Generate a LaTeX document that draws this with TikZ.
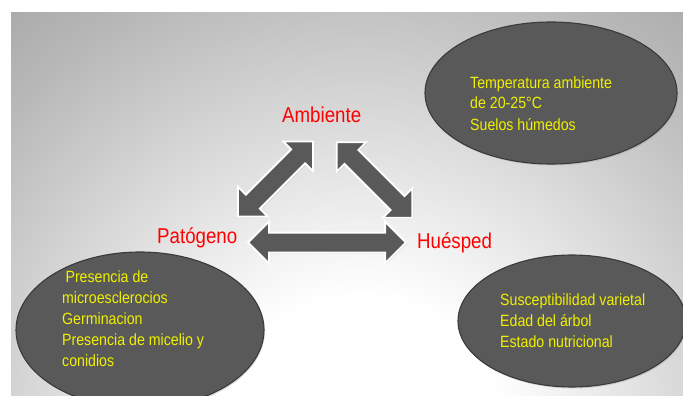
\documentclass[tikz,border=0pt]{standalone}
\usepackage{fontspec}
\setmainfont{Liberation Sans}
\usetikzlibrary{shapes.arrows,shapes.geometric,shadows}
\definecolor{darkfill}{HTML}{595959}
\definecolor{ebord}{HTML}{3A3A3A}
\definecolor{ytxt}{HTML}{F0F000}
\definecolor{bgdark}{HTML}{868686}
\definecolor{bgmid}{HTML}{B8B8B8}
\pgfdeclareradialshading{bgshade}{\pgfpoint{0bp}{0bp}}{color(0bp)=(white); color(6bp)=(white); color(20bp)=(bgmid); color(32bp)=(bgdark); color(50bp)=(bgdark)}
\begin{document}
\begin{tikzpicture}[x=1pt,y=-1pt,
  blob/.style={ellipse, fill=darkfill, draw=ebord, line width=1.1pt, inner sep=0pt,
    drop shadow={opacity=0.25, shadow xshift=1pt, shadow yshift=-1.5pt}},
  dblarrow/.style={shape=double arrow, double arrow head extend=11pt, double arrow tip angle=90,
    inner xsep=0pt, inner ysep=9pt, minimum width=0pt, fill=darkfill, draw=white, line width=1.8pt,
    drop shadow={opacity=0.3, shadow xshift=1pt, shadow yshift=-1pt}},
  redlbl/.style={text=red, font=\fontsize{21.5}{24}\selectfont, inner sep=0pt, xscale=0.87, anchor=base west},
  ylist/.style={text=ytxt, font=\fontsize{16.3}{21}\selectfont, align=left, inner sep=0pt, xscale=0.87, anchor=base west}
]
\useasboundingbox (0,0) rectangle (683,396);
\fill[white] (0,0) rectangle (683,396);
\begin{scope}
  \clip (11,13) rectangle (683,396);
  \shade[shading=bgshade] (360,440) circle [radius=600pt];
\end{scope}

% ellipses
\node[blob, minimum width=252pt, minimum height=142pt] (envbox) at (551,93) {};
\node[blob, minimum width=248pt, minimum height=156pt] (pthbox) at (140,330) {};
\node[blob, minimum width=228pt, minimum height=132pt] (hstbox) at (572,321) {};

% texts in ellipses (anchored at the baseline of the last line)
\node[ylist] (envtxt) at (470,130) {Temperatura ambiente\\de 20-25°C\\Suelos húmedos};
\node[ylist] (pthtxt) at (62,366) {\hspace{3.9pt}Presencia de\\microesclerocios\\Germinacion\\Presencia de micelio y\\conidios};
\node[ylist] (hsttxt) at (500,347) {Susceptibilidad varietal\\Edad del árbol\\Estado nutricional};

% labels
\node[redlbl] (amb) at (282,122) {Ambiente};
\node[redlbl] (pat) at (157,243) {Patógeno};
\node[redlbl] (hue) at (417,248) {Huésped};

% block arrows
\node[dblarrow, minimum height=106pt, rotate=45] (arrL) at (275.5,179) {};
\node[dblarrow, minimum height=107pt, rotate=-45] (arrR) at (374.5,180) {};
\node[dblarrow, minimum height=158pt] (arrH) at (327,242.5) {};
\end{tikzpicture}
\end{document}
